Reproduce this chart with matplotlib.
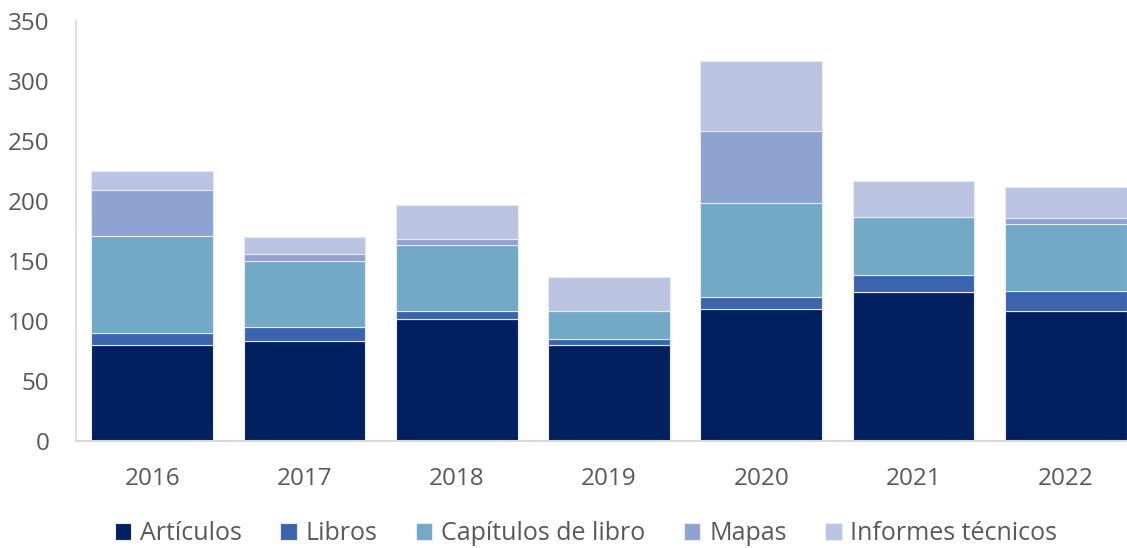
import matplotlib
matplotlib.use("Agg")
import matplotlib.pyplot as plt
import numpy as np

plt.rcParams['font.family'] = ['Open Sans', 'DejaVu Sans']

years = ['2016', '2017', '2018', '2019', '2020', '2021', '2022']
articulos = [80, 83, 102, 80, 110, 124, 108]
libros = [10, 12, 6, 5, 10, 14, 17]
capitulos = [81, 55, 55, 23, 78, 49, 56]
mapas = [38, 6, 5, 0, 60, 0, 5]
informes = [16, 14, 29, 29, 59, 30, 26]

series = [
    ('Artículos', articulos, '#002060'),
    ('Libros', libros, '#3C64AE'),
    ('Capítulos de libro', capitulos, '#71A9C7'),
    ('Mapas', mapas, '#8FA3D3'),
    ('Informes técnicos', informes, '#BAC3E2'),
]

fig = plt.figure(figsize=(11.27, 5.48), dpi=100)
ax = fig.add_axes([76 / 1127, 1 - 441 / 548, 1066 / 1127, 420 / 548])

x = np.arange(len(years))
bottom = np.zeros(len(years))
for name, vals, col in series:
    ax.bar(x, vals, 0.8, bottom=bottom, color=col, label=name,
           edgecolor='#e8eaf4', linewidth=0.8)
    bottom += np.array(vals)

ax.set_xlim(-0.5, 6.5)
ax.set_ylim(0, 350)
ax.set_yticks(range(0, 351, 50))
ax.set_xticks(x)
ax.set_xticklabels(years)

for s in ['top', 'right']:
    ax.spines[s].set_visible(False)
ax.spines['left'].set_color('#d9d9d9')
ax.spines['bottom'].set_color('#d9d9d9')
ax.spines['left'].set_linewidth(1.2)
ax.spines['bottom'].set_linewidth(1.5)

ax.tick_params(axis='both', length=0, labelsize=17.5, colors='#595959')
ax.tick_params(axis='y', pad=19)
ax.tick_params(axis='x', pad=19)

fig.legend(loc='center', bbox_to_anchor=(586 / 1127, 1 - 534 / 548), ncol=5,
           frameon=False, fontsize=18, labelcolor='#595959',
           handlelength=0.65, handleheight=0.65, handletextpad=0.35,
           columnspacing=1.55, borderaxespad=0)

fig.savefig('out.png', dpi=100)
